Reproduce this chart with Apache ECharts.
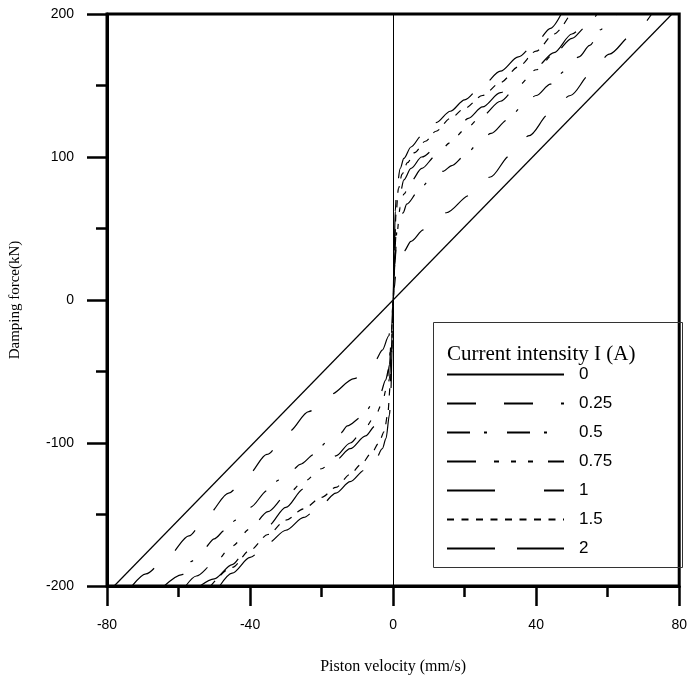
<!DOCTYPE html>
<html>
<head>
<meta charset="utf-8">
<script src="https://cdn.jsdelivr.net/npm/echarts@6/dist/echarts.min.js"></script>
<style>
  html, body { margin: 0; padding: 0; background: #fff; overflow: hidden; }
  #chart { width: 690px; height: 680px; }
</style>
</head>
<body>
<div id="chart"></div>
<script>
// current intensity labels
const currents = ['0', '0.25', '0.5', '0.75', '1', '1.5', '2']

// [piston velocity (mm/s), damping force (kN)]
const curve0 = [[-78, -200], [78, 200]]
const curve025 = [
  [-73, -200], [-69.1, -191.5], [-62.9, -179], [-57.1, -165], [-51.8, -150], [-46, -135],
  [-40.5, -122], [-35.3, -108], [-29.2, -92], [-23.6, -78], [-17.5, -66], [-10.9, -55],
  [-4.9, -42], [-3, -35], [-1.2, -25], [-0.3, -8], [0, 0], [0.3, 8], [0.7, 17], [1.5, 26],
  [3, 34], [5, 41], [8.5, 49], [14.9, 61], [21.3, 73], [27.2, 86], [32.7, 101], [38.1, 115],
  [43.6, 130], [49.6, 143], [55.2, 158], [60.5, 172], [66.7, 185], [72.3, 200]
]
const curve05 = [
  [-64, -200], [-59, -192], [-56.6, -183], [-53, -174], [-50, -167], [-47, -161],
  [-44, -154], [-40, -145], [-35, -133], [-32, -126], [-28, -118.5], [-26, -115],
  [-22, -108], [-18.8, -100], [-14.6, -93], [-12.8, -88], [-8.6, -81.5], [-5.8, -73],
  [-3.5, -65], [-2.1, -56], [-1.2, -48], [-0.5, -25], [0, 0], [0.5, 28], [1.1, 49],
  [2.8, 61], [3.8, 67], [7.1, 76], [9.9, 83], [14, 90], [16.4, 94], [20.1, 101], [23.3, 108],
  [27.4, 116.5], [32, 126], [36, 135], [40, 143], [44, 151], [48, 160], [52, 170],
  [55, 178], [58, 189], [60.5, 196], [62.6, 200]
]
const curve075 = [
  [-58, -200], [-55, -193], [-50, -184], [-45, -172], [-40, -160], [-35, -148], [-30, -137],
  [-25, -127], [-20, -118], [-16, -109], [-12, -100], [-8, -90], [-5, -81], [-3, -72], [-2, -63],
  [-1, -45], [-0.5, -25], [0, 0], [0.5, 25], [1, 45], [2, 65], [3, 74], [5, 83], [8, 92],
  [12, 101], [16, 110], [20, 119], [25, 129], [30, 139], [35, 150], [40, 161], [45, 172],
  [50, 183], [54, 191], [57, 200]
]
const curve1 = [
  [-54, -200], [-50, -195], [-45, -185], [-41, -175], [-35, -158], [-30, -145], [-25, -132],
  [-20, -120], [-16, -112], [-12, -104], [-7.7, -95], [-5, -88], [-3, -80], [-2, -72], [-1, -55],
  [-0.5, -35], [0, 0], [0.5, 35], [1, 55], [2, 75], [3, 84], [5, 92], [8, 100], [13.6, 110],
  [18, 120], [21, 127], [25, 135], [30, 145], [35.8, 155], [40, 163], [45, 173], [50, 186],
  [55, 200]
]
const curve15 = [
  [-51, -200], [-45, -187], [-40, -175], [-35, -164], [-30, -154], [-25, -146], [-20, -138],
  [-16, -131], [-12, -122], [-9, -115], [-6, -107], [-4, -100], [-2.5, -92], [-1.5, -80],
  [-0.8, -60], [-0.4, -35], [0, 0], [0.4, 35], [0.8, 60], [1.5, 78], [2.5, 88], [4, 96],
  [6, 103], [9, 111], [12, 118], [16, 127], [20, 134], [25, 143], [30, 152], [35, 163],
  [40, 174], [45, 186], [49.5, 200]
]
const curve2 = [
  [-48.5, -200], [-45, -191], [-40, -180], [-35, -170], [-30, -161], [-25, -152], [-20, -143],
  [-16, -135], [-12, -127], [-8, -119], [-5, -112], [-3, -104], [-2, -97], [-1, -80],
  [-0.6, -62], [-0.3, -35], [0, 0], [0.3, 35], [0.6, 62], [1, 78], [2, 92], [3, 99], [5, 107],
  [8, 115], [12, 124], [16, 132], [20, 140], [25, 150], [30, 160], [35, 170], [40, 180],
  [44, 190], [47, 200]
]

const curves = [curve0, curve025, curve05, curve075, curve1, curve15, curve2]
const dashes = ['solid', [29, 28], [23, 14, 3, 20], [29, 18, 5, 12, 5, 12, 5, 15], [48, 49], [7, 7.5], [48, 22]]

const chart = echarts.init(document.getElementById('chart'))

const series = curves.map((d, i) => {
  const s = {
    name: currents[i],
    type: 'line',
    data: d,
    showSymbol: false,
    symbol: 'none',
    smooth: i === 0 ? false : 0.3,
    smoothMonotone: 'x',
    lineStyle: { color: '#000', width: 1.2, type: dashes[i] },
    itemStyle: { color: '#000' },
    z: 3
  }
  if (i === 0) {
    // thin vertical line at zero velocity
    s.markLine = {
      silent: true,
      symbol: 'none',
      label: { show: false },
      lineStyle: { color: '#000', width: 1, type: 'solid' },
      data: [{ xAxis: 0 }]
    }
  }
  return s
})

chart.setOption({
  animation: false,
  backgroundColor: '#fff',
  grid: {
    left: 106, right: 7, top: 14, bottom: 91,
    show: true, borderColor: '#000', borderWidth: 3, backgroundColor: 'transparent'
  },
  xAxis: {
    type: 'value',
    min: -80, max: 80, interval: 40,
    name: 'Piston velocity (mm/s)',
    nameLocation: 'middle',
    nameGap: 73,
    nameTextStyle: { fontFamily: 'Liberation Serif', fontSize: 16, color: '#000' },
    axisLine: { onZero: false, lineStyle: { color: '#000', width: 3 } },
    axisTick: { length: 20, lineStyle: { width: 2.5, color: '#000' } },
    minorTick: { show: true, splitNumber: 2, length: 11, lineStyle: { width: 2.5, color: '#000' } },
    splitLine: { show: false },
    axisLabel: { margin: 32, fontFamily: 'Liberation Sans', fontSize: 14, color: '#000' }
  },
  yAxis: {
    type: 'value',
    min: -200, max: 200, interval: 100,
    name: 'Damping force(kN)',
    nameLocation: 'middle',
    nameGap: 84,
    nameRotate: 90,
    nameTextStyle: { fontFamily: 'Liberation Serif', fontSize: 15, color: '#000' },
    axisLine: { onZero: false, lineStyle: { color: '#000', width: 3 } },
    axisTick: { length: 20, lineStyle: { width: 2.5, color: '#000' } },
    minorTick: { show: true, splitNumber: 2, length: 11, lineStyle: { width: 2.5, color: '#000' } },
    splitLine: { show: false },
    axisLabel: { margin: 33, fontFamily: 'Liberation Sans', fontSize: 14, color: '#000' }
  },
  legend: {
    orient: 'vertical',
    left: 446,
    top: 366,
    padding: 0,
    itemWidth: 117,
    itemHeight: 14,
    itemGap: 12,
    data: currents,
    itemStyle: { opacity: 0, borderWidth: 0 },
    textStyle: { fontFamily: 'Liberation Sans', fontSize: 17, color: '#000', padding: [0, 0, 0, 10] },
    z: 10
  },
  graphic: [
    {
      type: 'rect',
      z: 5,
      shape: { x: 433.5, y: 322.5, width: 249, height: 245 },
      style: { fill: 'none', stroke: '#333', lineWidth: 1 }
    },
    {
      type: 'text',
      z: 6,
      left: 447,
      top: 344,
      style: { text: 'Current intensity I (A)', font: '21px "Liberation Serif"', fill: '#000' }
    }
  ],
  series: series
})
</script>
</body>
</html>
